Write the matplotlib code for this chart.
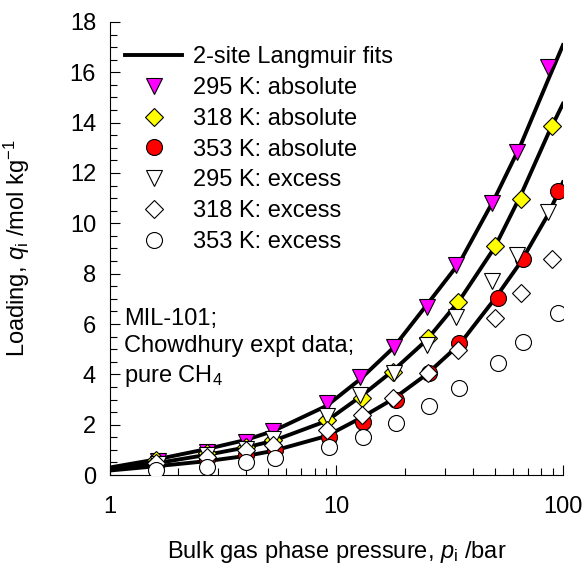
import matplotlib
matplotlib.use('Agg')
import matplotlib.pyplot as plt
from matplotlib.ticker import MultipleLocator, LogLocator, NullFormatter, FixedLocator

plt.rcParams['font.family'] = ['Liberation Sans', 'DejaVu Sans']
plt.rcParams['mathtext.fontset'] = 'custom'
plt.rcParams['mathtext.rm'] = 'Liberation Sans'
plt.rcParams['mathtext.it'] = 'Liberation Sans:italic'

p_295 = [1.63, 2.67, 3.97, 5.26, 9.1, 12.7, 18.0, 25.0, 33.6, 48.4, 62.4, 86.0]
abs_295 = [0.55, 0.93, 1.32, 1.75, 2.88, 3.91, 5.10, 6.69, 8.34, 10.79, 12.85, 16.22]
ex_295 = [0.45, 0.78, 1.05, 1.42, 2.35, 3.18, 4.04, 5.16, 6.29, 7.70, 8.74, 10.46]

p_318 = [1.6, 2.67, 3.97, 5.26, 9.05, 13.0, 17.8, 25.3, 34.5, 49.9, 65.0, 89.2]
abs_318 = [0.60, 0.86, 1.12, 1.39, 2.19, 3.05, 4.10, 5.43, 6.89, 9.10, 10.95, 13.87]
ex_318 = [0.47, 0.73, 0.99, 1.19, 1.79, 2.38, 3.05, 4.04, 4.97, 6.23, 7.22, 8.57]

p_353 = [1.6, 2.68, 3.99, 5.33, 9.25, 13.1, 18.3, 25.5, 34.7, 51.8, 66.8, 94.8]
abs_353 = [0.40, 0.62, 0.79, 0.99, 1.52, 2.12, 2.98, 4.04, 5.23, 7.02, 8.60, 11.28]
ex_353 = [0.20, 0.33, 0.53, 0.66, 1.12, 1.52, 2.08, 2.74, 3.44, 4.44, 5.30, 6.42]

# 2-site Langmuir fit curves
p_fit = [1, 1.6, 2.67, 4, 5.26, 9.05, 12.7, 17.8, 25, 35, 50, 65, 86, 100]
fit_295 = [0.30, 0.62, 1.03, 1.40, 1.75, 2.75, 3.80, 5.05, 6.75, 8.45, 11.0, 13.1, 15.7, 17.08]
fit_318 = [0.24, 0.47, 0.80, 1.10, 1.36, 2.15, 3.10, 4.15, 5.36, 6.95, 9.05, 11.1, 13.55, 14.75]
fit_353 = [0.18, 0.35, 0.55, 0.76, 0.96, 1.55, 2.25, 3.02, 4.00, 5.20, 7.00, 8.45, 10.35, 11.63]

fs = 17

fig = plt.figure(figsize=(5.87, 5.68), dpi=100)
ax = fig.add_axes([0.1874, 0.1637, 0.7716, 0.7976])

lw = 2.8
ax.plot(p_fit, fit_295, color='black', lw=lw, label='2-site Langmuir fits', zorder=2)
ax.plot(p_fit, fit_318, color='black', lw=lw, zorder=2)
ax.plot(p_fit, fit_353, color='black', lw=lw, zorder=2)

mk = dict(ls='none', mec='black', mew=0.8, zorder=3)
ax.plot(p_295, abs_295, marker='v', ms=11, mfc='#FF00FF', label='295 K: absolute', **mk)
ax.plot(p_318, abs_318, marker='D', ms=9.5, mfc='#FFFF00', label='318 K: absolute', **mk)
ax.plot(p_353, abs_353, marker='o', ms=11.5, mfc='#FF0000', label='353 K: absolute', **mk)
ax.plot(p_295, ex_295, marker='v', ms=11, mfc='white', label='295 K: excess', **mk)
ax.plot(p_318, ex_318, marker='D', ms=9.5, mfc='white', label='318 K: excess', **mk)
ax.plot(p_353, ex_353, marker='o', ms=11.5, mfc='white', label='353 K: excess', **mk)

ax.set_xscale('log')
ax.set_xlim(1, 100)
ax.set_ylim(0, 18)
ax.xaxis.set_major_locator(FixedLocator([1, 10, 100]))
ax.xaxis.set_major_formatter(plt.FuncFormatter(lambda v, _: '%g' % v))
ax.xaxis.set_minor_locator(LogLocator(base=10, subs=range(2, 10)))
ax.xaxis.set_minor_formatter(NullFormatter())
ax.yaxis.set_major_locator(MultipleLocator(2))
ax.yaxis.set_minor_locator(MultipleLocator(0.5))

for s in ['top', 'right']:
    ax.spines[s].set_visible(False)
ax.tick_params(which='both', direction='in', labelsize=fs, width=0.8)
ax.tick_params(axis='x', which='major', length=7, pad=15)
ax.tick_params(axis='x', which='minor', length=5)
ax.tick_params(axis='y', which='major', length=7, pad=10)
ax.tick_params(axis='y', which='minor', length=5)

ax.set_xlabel(r'Bulk gas phase pressure, $\mathit{p}_\mathrm{i}$ /bar', fontsize=fs, labelpad=15)
ax.set_ylabel(r'Loading, $\mathit{q}_\mathrm{i}$ /mol kg$^{-1}$', fontsize=fs, labelpad=27)

ax.text(1.15, 6.63, 'MIL-101;\nChowdhury expt data;\npure CH$_4$', fontsize=fs,
        va='top', ha='left', linespacing=1.3)

ax.legend(loc='upper left', bbox_to_anchor=(0.0, 0.98), frameon=False, fontsize=fs,
          handlelength=2.4, handletextpad=0.47, labelspacing=0.37, numpoints=1,
          borderaxespad=0.25)

fig.savefig('out.png', dpi=100)
